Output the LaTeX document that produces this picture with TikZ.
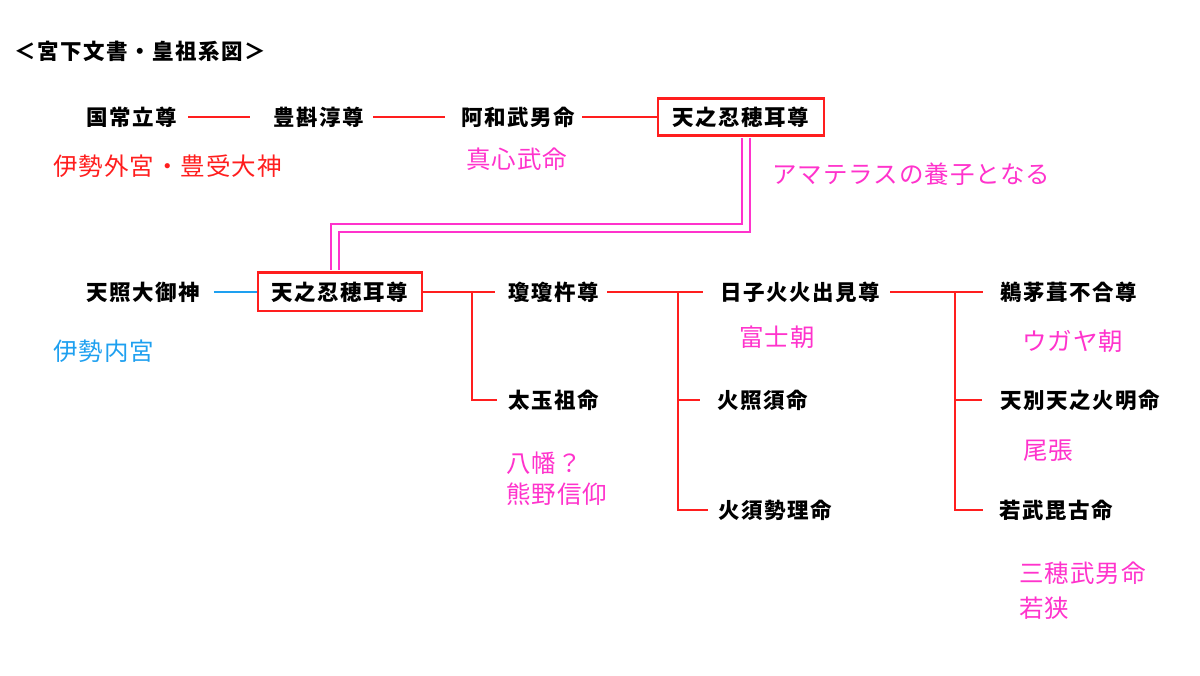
\documentclass[tikz,border=0pt]{standalone}
\usepackage{fontspec}
\newfontfamily\namefont{Noto Sans CJK JP}[LetterSpace=7]
\newfontfamily\notefont{Noto Sans CJK JP}[LetterSpace=4]
\definecolor{lred}{RGB}{255,30,30}
\definecolor{lmag}{RGB}{255,51,204}
\definecolor{lblue}{RGB}{30,160,240}
\begin{document}
\begin{tikzpicture}[x=1pt,y=-1pt,
  kname/.style={inner sep=0pt, font=\namefont\bfseries\fontsize{21.5}{25}\selectfont, text=black},
  kbox/.style={kname, draw=lred, line width=2.5pt},
  knote/.style={inner sep=0pt, anchor=west, font=\notefont\fontsize{24.5}{29}\selectfont},
  redline/.style={draw=lred, line width=2pt},
  blueline/.style={draw=lblue, line width=2pt},
  adopt/.style={draw=lmag, line width=2pt, double=white, double distance=6pt, shorten <=1.25pt, shorten >=1.25pt}
]
\useasboundingbox (0,0) rectangle (1200,676);
\fill[white] (0,0) rectangle (1200,676);

% title
\node[kname, anchor=west] (title) at (14,51) {＜宮下文書・皇祖系図＞};

% row 1
\node[kname, minimum width=93pt] (n1) at (131.5,117) {国常立尊};
\node[kname, minimum width=92pt] (n2) at (319,117) {豊斟淳尊};
\node[kname, minimum width=117pt] (n3) at (518.5,117) {阿和武男命};
\node[kbox, minimum width=166pt, minimum height=37pt] (b1) at (741,117) {天之忍穂耳尊};
\draw[redline] ([xshift=10pt]n1.east) -- ([xshift=-23pt]n1.east -| n2.west);
\draw[redline] ([xshift=8pt]n2.east) -- ([xshift=-15pt]n2.east -| n3.west);
\draw[redline] ([xshift=5pt]n3.east) -- (n3.east -| b1.west);

% row 2
\node[kname, minimum width=112pt] (m1) at (143,292) {天照大御神};
\node[kbox, minimum width=164pt, minimum height=38.5pt] (b2) at (340,292) {天之忍穂耳尊};
\draw[blueline] ([xshift=14pt]m1.east) -- (m1.east -| b2.west);

% adoption double line
\coordinate (k) at (540,228);
\draw[adopt] ([xshift=5pt]b1.south) |- (k) -| ([xshift=-5.5pt]b2.north);

\node[kname, minimum width=91pt] (s1) at (553.5,292) {瓊瓊杵尊};
\node[kname, minimum width=91pt] (s2) at (553.5,400) {太玉祖命};
\draw[redline] (b2.east) -- ([xshift=-13pt]b2.east -| s1.west);
\coordinate (j1) at ([xshift=49pt]b2.east);
\draw[redline] (j1) |- ([xshift=-11pt]s2.west);

\node[kname, minimum width=160pt] (g1) at (800,292) {日子火火出見尊};
\node[kname, minimum width=90pt] (g2) at (763,400) {火照須命};
\node[kname, minimum width=115pt] (g3) at (775.5,510) {火須勢理命};
\draw[redline] ([xshift=8pt]s1.east) -- ([xshift=-17pt]s1.east -| g1.west);
\coordinate (j2) at ([xshift=-42pt]g1.west);
\draw[redline] (j2) |- ([xshift=-18pt]g2.west);
\draw[redline] (j2) |- ([xshift=-10pt]g3.west);

\node[kname, minimum width=138pt] (h1) at (1069,292) {鵜茅葺不合尊};
\node[kname, minimum width=160pt] (h2) at (1080,400) {天別天之火明命};
\node[kname, minimum width=113pt] (h3) at (1056.5,510) {若武毘古命};
\draw[redline] ([xshift=10pt]g1.east) -- ([xshift=-17pt]g1.east -| h1.west);
\coordinate (j3) at ([xshift=-45pt]h1.west);
\draw[redline] (j3) |- ([xshift=-18pt]h2.west);
\draw[redline] (j3) |- ([xshift=-17pt]h3.west);

% notes
\node[knote, text=lred] (t1) at (53,166) {伊勢外宮・豊受大神};
\node[knote, text=lmag] (t2) at (466,159) {真心武命};
\node[knote, text=lmag] (t3) at (772,174) {アマテラスの養子となる};
\node[knote, text=lblue] (t4) at (53,351) {伊勢内宮};
\node[knote, text=lmag] (t5) at (506,463) {八幡？};
\node[knote, text=lmag] (t6) at (506,494) {熊野信仰};
\node[knote, text=lmag] (t7) at (739,337) {富士朝};
\node[knote, text=lmag] (t8) at (1022,341) {ウガヤ朝};
\node[knote, text=lmag] (t9) at (1023,451) {尾張};
\node[knote, text=lmag] (t10) at (1019,573) {三穂武男命};
\node[knote, text=lmag] (t11) at (1019,608) {若狭};
\end{tikzpicture}
\end{document}
